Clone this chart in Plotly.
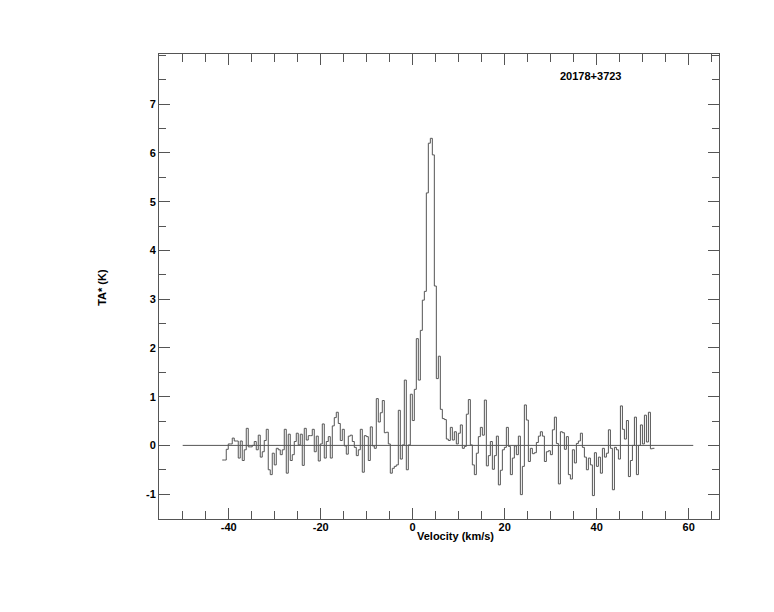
import numpy as np
import plotly.graph_objects as go

# Spectrum: channel start velocity and width (km/s), antenna temperature (K)
v_start = -41.4
dv = 0.435
ta = [
    -0.30, -0.30, -0.08, 0.03, 0.03, 0.15, 0.09, 0.09, -0.26, 0.09,
    -0.31, -0.09, 0.35, -0.03, -0.03, 0.00, 0.08, -0.09, 0.21, -0.24,
    -0.13, 0.10, 0.33, -0.50, -0.60, -0.16, -0.40, -0.06, -0.09, -0.19,
    -0.09, 0.33, -0.57,
    0.23, -0.31, -0.19, 0.08, 0.25, 0.01, 0.23, -0.41, 0.35, 0.11,
    0.20, 0.20, 0.33, -0.13, 0.19, -0.32, 0.03, 0.44, -0.26, 0.08,
    0.18, -0.26, 0.40, 0.57, 0.68, 0.45, 0.10, 0.33, -0.01, -0.18,
    0.19, 0.21, 0.08, -0.04,
    -0.21, -0.09, 0.33, -0.55, 0.20, 0.18, -0.31, 0.38, -0.01, -0.06,
    0.96, 0.48, 0.67, 0.92, 0.26, 0.27, 0.03, -0.57, -0.47, -0.43,
    -0.40, 0.72, -0.28, 0.01, 1.34, -0.50, 0.01, 1.05, 0.51, 1.15,
    2.19, 1.34, 2.36, 2.98, 3.16, 5.18, 6.20, 6.30, 5.96, 3.27, 1.37, 1.83,
    0.74, 0.55, 0.53, 0.13, 0.10, 0.37, 0.11, 0.28, 0.03, 0.25,
    0.42, -0.06, -0.02, 0.64, 0.94, 0.01, -0.40, -0.60, -0.16, 0.18,
    0.37, 0.21, 0.93, -0.42, -0.21, 0.08, -0.49, -0.21, 0.19, -0.81,
    -0.51, -0.09, -0.04, 0.37, -0.02, -0.60, -0.26, -0.01, -0.19, 0.19,
    -1.01, -0.43, 0.83, 0.52, -0.33, -0.06, -0.17, -0.15, 0.06, 0.19,
    0.28, 0.19, -0.33, -0.13, -0.11, -0.19, 0.32, 0.58, 0.04, -0.79,
    0.28, 0.26, -0.08, 0.18,
    -0.60, -0.69, -0.09, -0.36, 0.04, 0.09, 0.25, -0.04, -0.24, -0.50,
    -0.26, -0.40, -1.03, -0.15, -0.43, -0.24, -0.57, -0.06, -0.24, -0.16,
    0.32, -0.06, -0.91, -0.04, -0.09, -0.28,
    0.81, 0.33, 0.13, 0.51, -0.64, -0.31, 0.00, 0.58, -0.60, 0.00,
    0.42, 0.03, 0.62, 0.07, 0.68, -0.07, -0.06,
]
baseline_x = [-50, 61]
baseline_y = [0, 0]

x_ticks = [-40, -20, 0, 20, 40, 60]
x_ticktext = ["-40", "-20", "0", "20", "40", "60"]
y_ticks = [-1, 0, 1, 2, 3, 4, 5, 6, 7]
y_ticktext = ["-1", "0", "1", "2", "3", "4", "5", "6", "7"]
source_name = "20178+3723"

n = len(ta)
edges = v_start + dv * np.arange(n + 1)
ys = list(ta) + [ta[-1]]

line_col = "#555555"
font = dict(family="Liberation Sans, Arial, sans-serif", size=11, color="black", weight="bold")

fig = go.Figure()
fig.add_trace(go.Scatter(x=baseline_x, y=baseline_y, mode="lines",
                         line=dict(color=line_col, width=1), hoverinfo="skip"))
fig.add_trace(go.Scatter(x=edges, y=ys, mode="lines", line_shape="hv",
                         line=dict(color=line_col, width=1)))

axis_common = dict(showgrid=False, zeroline=False, showline=True, linecolor=line_col,
                   linewidth=1, mirror="ticks", ticks="inside", tickcolor=line_col,
                   ticklen=11, tickwidth=1, tickfont=font)
fig.update_xaxes(range=[-55.15, 66.6], tickvals=x_ticks, ticktext=x_ticktext,
                 ticklabelstandoff=-2,
                 minor=dict(dtick=5, tick0=0, ticks="inside", ticklen=8,
                            tickcolor=line_col, tickwidth=1, showgrid=False),
                 **axis_common)
fig.update_yaxes(range=[-1.51, 8.03], tickvals=y_ticks, ticktext=y_ticktext,
                 minor=dict(dtick=0.5, tick0=0, ticks="inside", ticklen=7,
                            tickcolor=line_col, tickwidth=1, showgrid=False),
                 **axis_common)

fig.add_annotation(text=source_name, xref="paper", yref="paper", x=0.77, y=0.953,
                   xanchor="center", yanchor="middle", showarrow=False, font=font)
fig.add_annotation(text="Velocity (km/s)", xref="paper", yref="paper", x=0.53, y=0,
                   xanchor="center", yanchor="top", yshift=-9, showarrow=False, font=font)
fig.add_annotation(text="TA* (K)", xref="paper", yref="paper", x=-0.102, y=0.499,
                   xanchor="center", yanchor="middle",
                   textangle=-90, showarrow=False, font=font)

# page body has an 8px margin, so the plot area is shifted up/left to compensate
fig.update_layout(width=774, height=612, showlegend=False,
                  paper_bgcolor="white", plot_bgcolor="white",
                  margin=dict(l=151, r=63, t=46, b=101))
fig.write_html("out.html")
